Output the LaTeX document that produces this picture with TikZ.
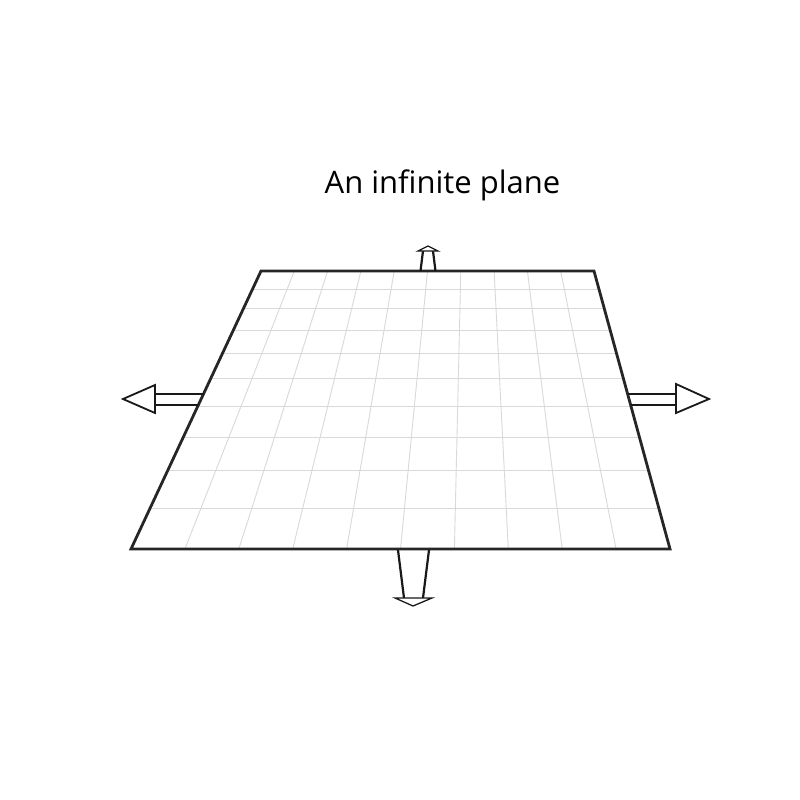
\documentclass[tikz,border=0pt]{standalone}
\usepackage{fontspec}
\setmainfont{Open Sans}
\begin{document}
\begin{tikzpicture}[x=1pt,y=-1pt,
  gridline/.style={draw=black!15,line width=0.9pt},
  outline/.style={draw=black!85,line width=2.8pt,line join=miter},
  shaft/.style={draw=black!90,line width=2.2pt},
  arrowhead/.style={draw=black!90,fill=white,line width=1.8pt,line join=miter}]
\useasboundingbox (0,0) rectangle (800,800);
\fill[white] (0,0) rectangle (800,800);
\node[font=\fontsize{31}{36}\selectfont,inner sep=0pt] (title) at (442.5,185) {An infinite plane};
% grid
\foreach \i in {1,...,9} \draw[gridline] ({261+33.3*\i},271) -- ({131+53.9*\i},549);
\foreach \Y in {289,308,330,353,378,406,437,470,508} {
  \pgfmathsetmacro\tt{(\Y-271)/278}
  \draw[gridline] ({261-130*\tt},\Y) -- ({594+76*\tt},\Y);
}
\draw[outline] (261,271) -- (594,271) -- (670,549) -- (131,549) -- cycle;
% right arrow
\draw[shaft] (627.6,394) -- (677,394);
\draw[shaft] (630.6,405) -- (677,405);
\draw[arrowhead] (676,384) -- (709,399) -- (676,413) -- cycle;
% left arrow
\draw[shaft] (203.5,394) -- (154,394);
\draw[shaft] (198.3,405) -- (154,405);
\draw[arrowhead] (155,385) -- (123,399) -- (155,413) -- cycle;
% top arrow
\draw[shaft] (420.5,271) -- (423,251);
\draw[shaft] (435.5,271) -- (433,251);
\draw[arrowhead,line width=1.3pt] (418,251) -- (428,246) -- (438,251) -- cycle;
% bottom arrow
\draw[shaft] (398,550) -- (404,598);
\draw[shaft] (429,550) -- (423,598);
\draw[arrowhead,line width=1.3pt] (395,598) -- (413,606) -- (432,598) -- cycle;
\end{tikzpicture}
\end{document}
